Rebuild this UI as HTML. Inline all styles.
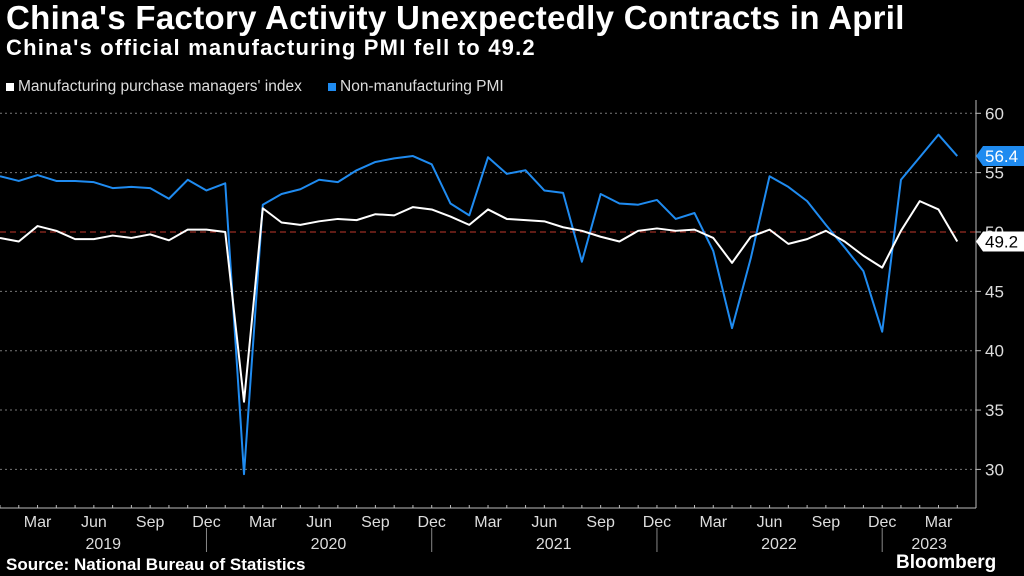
<!DOCTYPE html>
<html><head><meta charset="utf-8"><style>
html,body{margin:0;padding:0;background:#000;width:1024px;height:576px;overflow:hidden;font-family:"Liberation Sans",sans-serif;color:#fff}
.t{position:absolute;white-space:nowrap}
</style></head><body>
<div class="t" style="left:6px;top:-1px;font-size:33px;font-weight:bold;letter-spacing:0.3px">China's Factory Activity Unexpectedly Contracts in April</div>
<div class="t" style="left:6px;top:35px;font-size:22px;font-weight:bold;letter-spacing:1.2px">China's official manufacturing PMI fell to 49.2</div>
<div class="t" style="left:6px;top:78px;font-size:15.5px;color:#ddd"><span style="display:inline-block;width:8px;height:8px;background:#fff;margin-right:4px"></span>Manufacturing purchase managers' index</div>
<div class="t" style="left:328px;top:78px;font-size:15.5px;color:#ddd"><span style="display:inline-block;width:8px;height:8px;background:#1f8bf0;margin-right:4px"></span>Non-manufacturing PMI</div>
<svg id="chart" width="1024" height="576" style="position:absolute;left:0;top:0" xmlns="http://www.w3.org/2000/svg"></svg>
<div class="t" style="left:6px;top:555px;font-size:17px;font-weight:bold">Source: National Bureau of Statistics</div>
<div class="t" style="left:896px;top:552px;font-size:19px;font-weight:bold">Bloomberg</div>
<script>
const manufacturing=[49.5,49.2,50.5,50.1,49.4,49.4,49.7,49.5,49.8,49.3,50.2,50.2,
50.0,35.7,52.0,50.8,50.6,50.9,51.1,51.0,51.5,51.4,52.1,51.9,
51.3,50.6,51.9,51.1,51.0,50.9,50.4,50.1,49.6,49.2,50.1,50.3,
50.1,50.2,49.5,47.4,49.6,50.2,49.0,49.4,50.1,49.2,48.0,47.0,
50.1,52.6,51.9,49.2];
const nonManufacturing=[54.7,54.3,54.8,54.3,54.3,54.2,53.7,53.8,53.7,52.8,54.4,53.5,
54.1,29.6,52.3,53.2,53.6,54.4,54.2,55.2,55.9,56.2,56.4,55.7,
52.4,51.4,56.3,54.9,55.2,53.5,53.3,47.5,53.2,52.4,52.3,52.7,
51.1,51.6,48.4,41.9,47.8,54.7,53.8,52.6,50.6,48.7,46.7,41.6,
54.4,56.3,58.2,56.4];
const yTicks=[30,35,40,45,50,55,60];
const monthLabels=["Mar","Jun","Sep","Dec"];
const years=["2019","2020","2021","2022","2023"];
const NS="http://www.w3.org/2000/svg";
const svg=document.getElementById('chart');
const X=i=>i*18.77;
const Y=v=>232-(v-50)*11.87;
function el(tag,attrs){const e=document.createElementNS(NS,tag);for(const k in attrs)e.setAttribute(k,attrs[k]);svg.appendChild(e);return e;}
yTicks.forEach(v=>{
  if(v!==50){const g=el('line',{x1:0,x2:976,y1:Y(v),y2:Y(v),stroke:'#777','stroke-dasharray':'2,3','stroke-width':1});
  
  }
  el('line',{x1:976,x2:981,y1:Y(v),y2:Y(v),stroke:'#bbb'});
  const t=el('text',{x:985,y:Y(v)+6,fill:'#ddd','font-size':17,'font-family':'Liberation Sans'});t.textContent=v;
  
  
});
const ref=el('line',{x1:0,x2:976,y1:Y(50),y2:Y(50),stroke:'#c0392b','stroke-dasharray':'6,4','stroke-width':1});


el('line',{x1:976,x2:976,y1:100,y2:508,stroke:'#bbb'});
el('line',{x1:0,x2:976,y1:508,y2:508,stroke:'#bbb'});
for(let i=0;i<52;i++){el('line',{x1:X(i),x2:X(i),y1:505,y2:508,stroke:'#bbb'});}
for(let i=2;i<52;i+=3){
  const t=el('text',{x:X(i),y:527,fill:'#ddd','font-size':16,'text-anchor':'middle','font-family':'Liberation Sans'});
  t.textContent=monthLabels[((i-2)/3)%4];
  
  
}
years.forEach((y,k)=>{
  const start=k*12, end=Math.min(k*12+11,51);
  if(k>0)el('line',{x1:X(start-1),x2:X(start-1),y1:528,y2:552,stroke:'#888'});
  const t=el('text',{x:(X(start)+X(end))/2,y:549,fill:'#ddd','font-size':16,'text-anchor':'middle','font-family':'Liberation Sans'});
  t.textContent=y;
  
  
});
function line(data,color,name){
  const p=el('polyline',{points:data.map((v,i)=>X(i)+','+Y(v)).join(' '),fill:'none',stroke:color,'stroke-width':2,'stroke-linejoin':'round'});
  
  
}
line(nonManufacturing,'#1f8bf0','non-manufacturing-line');
line(manufacturing,'#ffffff','manufacturing-line');
function badge(v,bg,fg,name){
  const y=Y(v);
  const p=el('path',{d:`M976 ${y} L983 ${y-10} L1024 ${y-10} L1024 ${y+10} L983 ${y+10} Z`,fill:bg});
  
  
  const t=el('text',{x:985,y:y+6,fill:fg,'font-size':17,'font-family':'Liberation Sans'});t.textContent=v.toFixed(1);
}
badge(nonManufacturing[51],'#1f8bf0','#fff','last-value-non-manufacturing');
badge(manufacturing[51],'#fff','#000','last-value-manufacturing');
</script>
</body></html>
